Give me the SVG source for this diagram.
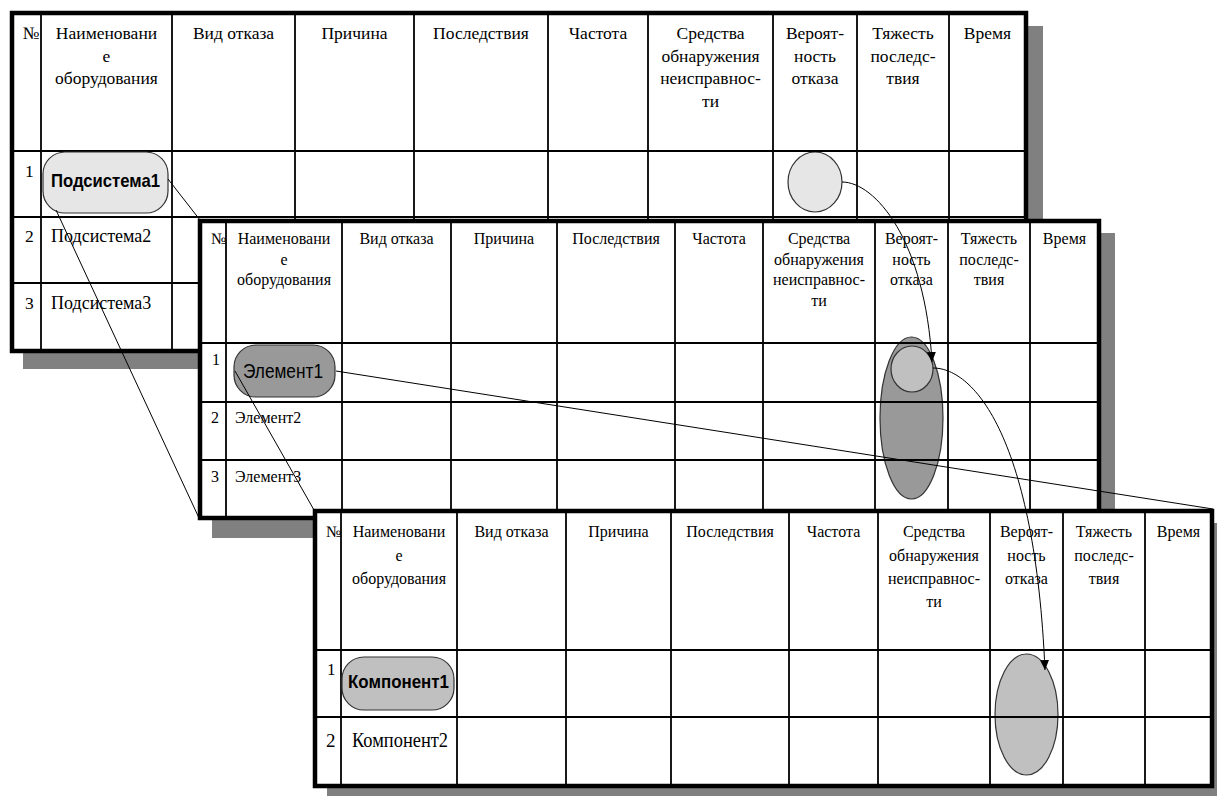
<svg xmlns="http://www.w3.org/2000/svg" width="1217" height="796" viewBox="0 0 1217 796">
<style>
.shadow{fill:#808080}
.bg{fill:#fff}
.border{fill:none;stroke:#000;stroke-width:4.5}
.grid line{stroke:#000;stroke-width:1.8}
.h1{font-family:"Liberation Serif","Times New Roman",serif;font-size:17.5px;fill:#000;text-anchor:middle}
.h2{font-family:"Liberation Serif","Times New Roman",serif;font-size:16px;fill:#000;text-anchor:middle}
.s{text-anchor:start}
.node{stroke:#333;stroke-width:1.2}
.lbl{font-family:"Liberation Sans",Arial,sans-serif;fill:#000;text-anchor:middle}
.conn{fill:none;stroke:#000;stroke-width:1}
</style>
<defs>
<marker id="arr" markerUnits="userSpaceOnUse" markerWidth="11" markerHeight="10" refX="10" refY="4.5" orient="auto">
<path d="M0,0 L10,4.5 L0,9 z" fill="#000"/>
</marker>
</defs>

<!-- Table 1 -->
<g id="table1">
<rect class="shadow" x="23" y="26" width="1020" height="343"/>
<rect class="bg" x="12" y="13" width="1014" height="338"/>
<ellipse id="prob1" class="node" cx="815" cy="182" rx="27" ry="30" fill="#e6e6e6"/>
<g class="grid">
<line x1="41" y1="13" x2="41" y2="351"/><line x1="172" y1="13" x2="172" y2="351"/>
<line x1="295" y1="13" x2="295" y2="351"/><line x1="414" y1="13" x2="414" y2="351"/>
<line x1="548" y1="13" x2="548" y2="351"/><line x1="648" y1="13" x2="648" y2="351"/>
<line x1="773" y1="13" x2="773" y2="351"/><line x1="857" y1="13" x2="857" y2="351"/>
<line x1="949" y1="13" x2="949" y2="351"/>
<line x1="12" y1="151" x2="1026" y2="151"/><line x1="12" y1="217" x2="1026" y2="217"/>
<line x1="12" y1="283" x2="1026" y2="283"/>
</g>
<rect class="border" x="12" y="13" width="1014" height="338"/>
<g class="h1">
<text class="s" x="23" y="39">№</text>
<text x="106.5" y="39">Наименовани</text><text x="106.5" y="61.5">е</text><text x="106.5" y="84">оборудования</text>
<text x="233.5" y="39">Вид отказа</text>
<text x="354.5" y="39">Причина</text>
<text x="481" y="39">Последствия</text>
<text x="598" y="39">Частота</text>
<text x="710.5" y="39">Средства</text><text x="710.5" y="61.5">обнаружения</text><text x="710.5" y="84">неисправнос-</text><text x="710.5" y="106.5">ти</text>
<text x="815" y="39">Вероят-</text><text x="815" y="61.5">ность</text><text x="815" y="84">отказа</text>
<text x="903" y="39">Тяжесть</text><text x="903" y="61.5">последс-</text><text x="903" y="84">твия</text>
<text x="987.5" y="39">Время</text>
<text class="s" x="25" y="177">1</text>
<text class="s" x="25" y="242">2</text>
<text class="s" x="25" y="309">3</text>
<text class="s" x="51" y="242" style="font-size:18px">Подсистема2</text>
<text class="s" x="51" y="309" style="font-size:18px">Подсистема3</text>
</g>
</g>
<g id="node-podsistema1">
<rect class="node" x="43" y="152" width="125" height="61" rx="22" fill="#e6e6e6"/>
<text class="lbl" x="105.5" y="187" font-size="19" font-weight="bold" textLength="109" lengthAdjust="spacingAndGlyphs">Подсистема1</text>
</g>

<!-- Table 2 -->
<g id="table2">
<rect class="shadow" x="212" y="233" width="903" height="305"/>
<rect class="bg" x="200" y="221" width="899" height="297"/>
<ellipse id="prob2" class="node" cx="911.5" cy="418" rx="31.5" ry="81" fill="#999"/>
<ellipse id="prob2a" class="node" cx="912" cy="369" rx="21" ry="23" fill="#c0c0c0"/>
<g class="grid">
<line x1="226" y1="221" x2="226" y2="518"/><line x1="342" y1="221" x2="342" y2="518"/>
<line x1="451" y1="221" x2="451" y2="518"/><line x1="557" y1="221" x2="557" y2="518"/>
<line x1="675" y1="221" x2="675" y2="518"/><line x1="763" y1="221" x2="763" y2="518"/>
<line x1="875" y1="221" x2="875" y2="518"/><line x1="948" y1="221" x2="948" y2="518"/>
<line x1="1030" y1="221" x2="1030" y2="518"/>
<line x1="200" y1="343" x2="1099" y2="343"/><line x1="200" y1="402" x2="1099" y2="402"/>
<line x1="200" y1="460" x2="1099" y2="460"/>
</g>
<rect class="border" x="200" y="221" width="899" height="297"/>
<g class="h2">
<text class="s" x="211" y="244">№</text>
<text x="284" y="244">Наименовани</text><text x="284" y="264.5">е</text><text x="284" y="285">оборудования</text>
<text x="396.5" y="244">Вид отказа</text>
<text x="504" y="244">Причина</text>
<text x="616" y="244">Последствия</text>
<text x="719" y="244">Частота</text>
<text x="819" y="244">Средства</text><text x="819" y="264.5">обнаружения</text><text x="819" y="285">неисправнос-</text><text x="819" y="305.5">ти</text>
<text x="911.5" y="244">Вероят-</text><text x="911.5" y="264.5">ность</text><text x="911.5" y="285">отказа</text>
<text x="989" y="244">Тяжесть</text><text x="989" y="264.5">последс-</text><text x="989" y="285">твия</text>
<text x="1064.5" y="244">Время</text>
<text class="s" x="212" y="365">1</text>
<text class="s" x="211" y="423">2</text>
<text class="s" x="211" y="482">3</text>
<text class="s" x="235" y="423">Элемент2</text>
<text class="s" x="235" y="482">Элемент3</text>
</g>
</g>
<g id="node-element1">
<rect class="node" x="234" y="345" width="101" height="52" rx="22" fill="#999"/>
<text class="lbl" x="283" y="378" font-size="20" textLength="80" lengthAdjust="spacingAndGlyphs">Элемент1</text>
</g>

<!-- Table 3 -->
<g id="table3">
<rect class="shadow" x="327" y="523" width="900" height="280"/>
<rect class="bg" x="315" y="511" width="897" height="275"/>
<ellipse id="prob3" class="node" cx="1026.5" cy="714.5" rx="31.5" ry="60.5" fill="#c0c0c0"/>
<g class="grid">
<line x1="341" y1="511" x2="341" y2="786"/><line x1="457" y1="511" x2="457" y2="786"/>
<line x1="566" y1="511" x2="566" y2="786"/><line x1="671" y1="511" x2="671" y2="786"/>
<line x1="789" y1="511" x2="789" y2="786"/><line x1="878" y1="511" x2="878" y2="786"/>
<line x1="990" y1="511" x2="990" y2="786"/><line x1="1063" y1="511" x2="1063" y2="786"/>
<line x1="1145" y1="511" x2="1145" y2="786"/>
<line x1="315" y1="650" x2="1212" y2="650"/><line x1="315" y1="717" x2="1212" y2="717"/>
</g>
<rect class="border" x="315" y="511" width="897" height="275"/>
<g class="h2">
<text class="s" x="326" y="537">№</text>
<text x="399" y="537">Наименовани</text><text x="399" y="560.5">е</text><text x="399" y="584">оборудования</text>
<text x="511.5" y="537">Вид отказа</text>
<text x="618.5" y="537">Причина</text>
<text x="730" y="537">Последствия</text>
<text x="833.5" y="537">Частота</text>
<text x="934" y="537">Средства</text><text x="934" y="560.5">обнаружения</text><text x="934" y="584">неисправнос-</text><text x="934" y="607">ти</text>
<text x="1026.5" y="537">Вероят-</text><text x="1026.5" y="560.5">ность</text><text x="1026.5" y="584">отказа</text>
<text x="1104" y="537">Тяжесть</text><text x="1104" y="560.5">последс-</text><text x="1104" y="584">твия</text>
<text x="1178.5" y="537">Время</text>
<text class="s" x="327" y="675" style="font-size:17px">1</text>
<text class="s" x="326" y="747" style="font-size:19px">2</text>
<text class="s" x="352" y="747" style="font-size:21px" textLength="96" lengthAdjust="spacingAndGlyphs">Компонент2</text>
</g>
</g>
<g id="node-komponent1">
<rect class="node" x="342" y="657" width="112" height="53" rx="22" fill="#c0c0c0"/>
<text class="lbl" x="398.5" y="688" font-size="17.5" font-weight="bold" textLength="101" lengthAdjust="spacingAndGlyphs">Компонент1</text>
</g>

<!-- Connectors -->
<g id="connectors">
<line class="conn" x1="168" y1="179" x2="200" y2="220"/>
<line class="conn" x1="56" y1="210" x2="199" y2="518"/>
<line class="conn" x1="235" y1="371" x2="314" y2="510"/>
<line class="conn" x1="336" y1="371" x2="1213" y2="509"/>
<path class="conn" d="M842,182 C875,182 925,240 932,362" marker-end="url(#arr)"/>
<path class="conn" d="M933,368 C975,368 1035,440 1045,670" marker-end="url(#arr)"/>
</g>
</svg>
